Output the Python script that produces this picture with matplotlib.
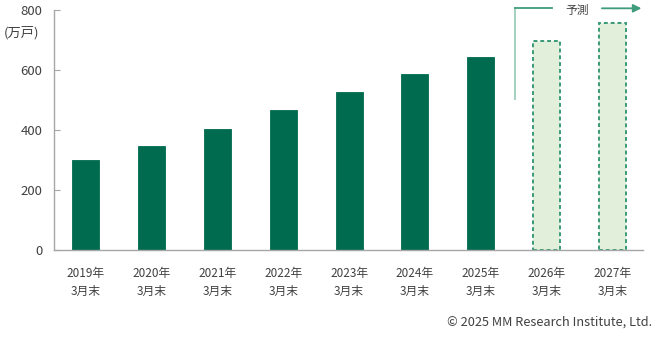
import matplotlib
matplotlib.use("Agg")
import matplotlib.pyplot as plt

plt.rcParams['font.family'] = ['Noto Sans CJK JP', 'DejaVu Sans']

# Households at end of March (10k units); last two years are projections
years = ["2019年", "2020年", "2021年", "2022年", "2023年", "2024年", "2025年", "2026年", "2027年"]
values = [299, 346, 403, 467, 526, 588, 643, 697, 756]
is_forecast = [False, False, False, False, False, False, False, True, True]
y_ticks = [0, 200, 400, 600, 800]

ACTUAL = "#006b4f"
FC_FILL = "#e2efda"
FC_EDGE = "#3a9a78"
ARROW = "#3f9c7c"
TEXT = "#404040"
AXIS = "#a6a6a6"

fig = plt.figure(figsize=(6.65, 3.37), dpi=100)
ax = fig.add_axes([0.0805, 0.258, 0.886, 0.712])

x = list(range(len(years)))
for xi, v, fc in zip(x, values, is_forecast):
    if fc:
        ax.bar(xi, v, width=0.41, color=FC_FILL, edgecolor=FC_EDGE,
               linewidth=1.4, linestyle=(0, (2.0, 1.5)), zorder=2)
    else:
        ax.bar(xi, v, width=0.41, color=ACTUAL, edgecolor=ACTUAL,
               linewidth=0.6, zorder=2)

ax.set_xlim(-0.49, 8.46)
ax.set_ylim(0, 800)
ax.set_yticks(y_ticks)
ax.set_yticklabels([str(t) for t in y_ticks], fontsize=9.5, color=TEXT)
ax.tick_params(axis='y', direction='in', length=4, width=0.8, color=AXIS, pad=8)
ax.set_xticks(x)
ax.set_xticklabels([f"{y}\n3月末" for y in years], fontsize=8.5, color=TEXT,
                   linespacing=1.55)
ax.tick_params(axis='x', length=0, pad=12)

for side in ("top", "right"):
    ax.spines[side].set_visible(False)
for side in ("left", "bottom"):
    ax.spines[side].set_color(AXIS)
    ax.spines[side].set_linewidth(1.0)

# unit label
fig.text(0.006, 0.903, "(万戸)", fontsize=9.5, color=TEXT, ha="left", va="center")

# forecast bracket and arrow
ax.plot([6.52, 6.52], [503, 806], color="#9ccdb7", lw=1.3, clip_on=False, zorder=3)
ax.plot([6.52, 7.08], [806, 806], color=ARROW, lw=1.3, clip_on=False, zorder=3)
ax.text(7.46, 800, "予測", fontsize=8.5, color=TEXT, ha="center", va="center")
ax.annotate("", xy=(8.44, 806), xytext=(7.84, 806),
            arrowprops=dict(arrowstyle="-|>", color=ARROW, lw=1.3,
                            mutation_scale=12, shrinkA=0, shrinkB=0),
            annotation_clip=False)

fig.text(0.98, 0.045, "© 2025 MM Research Institute, Ltd.", fontsize=9.2,
         color=TEXT, ha="right", va="center")

fig.savefig("out.png", dpi=100)
